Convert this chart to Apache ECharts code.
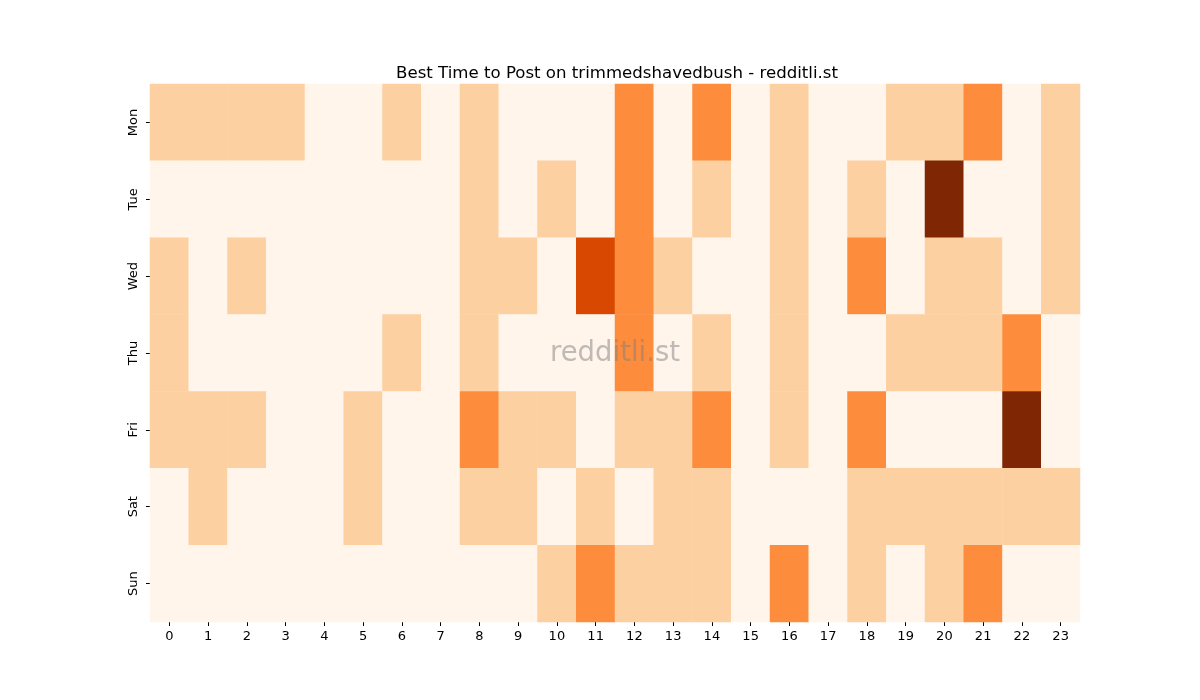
<!DOCTYPE html>
<html>
<head>
<meta charset="utf-8">
<script src="https://cdn.jsdelivr.net/npm/echarts@6/dist/echarts.min.js"></script>
<style>
  html, body { margin: 0; padding: 0; background: #fff; }
  #chart { width: 1200px; height: 700px; }
</style>
</head>
<body>
<div id="chart"></div>
<script>
var days = ['Mon', 'Tue', 'Wed', 'Thu', 'Fri', 'Sat', 'Sun'];
var hours = ['0', '1', '2', '3', '4', '5', '6', '7', '8', '9', '10', '11',
             '12', '13', '14', '15', '16', '17', '18', '19', '20', '21', '22', '23'];

// activity level per hour (0 = lowest, 4 = highest)
var mon = [1, 1, 1, 1, 0, 0, 1, 0, 1, 0, 0, 0, 2, 0, 2, 0, 1, 0, 0, 1, 1, 2, 0, 1];
var tue = [0, 0, 0, 0, 0, 0, 0, 0, 1, 0, 1, 0, 2, 0, 1, 0, 1, 0, 1, 0, 4, 0, 0, 1];
var wed = [1, 0, 1, 0, 0, 0, 0, 0, 1, 1, 0, 3, 2, 1, 0, 0, 1, 0, 2, 0, 1, 1, 0, 1];
var thu = [1, 0, 0, 0, 0, 0, 1, 0, 1, 0, 0, 0, 2, 0, 1, 0, 1, 0, 0, 1, 1, 1, 2, 0];
var fri = [1, 1, 1, 0, 0, 1, 0, 0, 2, 1, 1, 0, 1, 1, 2, 0, 1, 0, 2, 0, 0, 0, 4, 0];
var sat = [0, 1, 0, 0, 0, 1, 0, 0, 1, 1, 0, 1, 0, 1, 1, 0, 0, 0, 1, 1, 1, 1, 1, 1];
var sun = [0, 0, 0, 0, 0, 0, 0, 0, 0, 0, 1, 2, 1, 1, 1, 0, 2, 0, 1, 0, 1, 2, 0, 0];

var rows = [mon, tue, wed, thu, fri, sat, sun];
var oranges = ['#fff5eb', '#fdd0a2', '#fd8d3c', '#d94801', '#7f2704'];

var cells = [];
rows.forEach(function (row, d) {
    row.forEach(function (v, h) {
        cells.push([h, d, v]);
    });
});

var font = 'DejaVu Sans';
var myChart = echarts.init(document.getElementById('chart'));

var option = {
    backgroundColor: '#fff',
    animation: false,
    title: {
        text: 'Best Time to Post on trimmedshavedbush - redditli.st',
        left: 612,
        top: 60,
        textAlign: 'center',
        textStyle: {
            fontFamily: font,
            fontSize: 16.6,
            fontWeight: 'normal',
            color: '#000'
        }
    },
    grid: {
        left: 150,
        right: 120,
        top: 84,
        bottom: 78
    },
    xAxis: {
        type: 'category',
        data: hours,
        axisLine: { show: false },
        axisTick: {
            show: true,
            alignWithLabel: true,
            length: 4,
            lineStyle: { color: '#000' }
        },
        axisLabel: {
            fontFamily: font,
            fontSize: 13,
            color: '#000',
            margin: 8,
            interval: 0
        },
        splitLine: { show: false }
    },
    yAxis: {
        type: 'category',
        data: days,
        inverse: true,
        axisLine: { show: false },
        axisTick: {
            show: true,
            alignWithLabel: true,
            length: 4,
            lineStyle: { color: '#000' }
        },
        axisLabel: {
            fontFamily: font,
            fontSize: 13,
            color: '#000',
            rotate: 90,
            margin: 10
        },
        splitLine: { show: false }
    },
    visualMap: {
        type: 'piecewise',
        show: false,
        dimension: 2,
        pieces: oranges.map(function (c, i) {
            return { value: i, color: c };
        })
    },
    series: [{
        type: 'heatmap',
        data: cells,
        itemStyle: { borderWidth: 0 },
        emphasis: { disabled: true }
    }],
    graphic: [{
        type: 'text',
        left: 550,
        top: 340,
        style: {
            text: 'redditli.st',
            fontFamily: font,
            fontSize: 27.5,
            fill: 'rgba(128,128,128,0.5)'
        },
        z: 100
    }]
};

myChart.setOption(option);
</script>
</body>
</html>
